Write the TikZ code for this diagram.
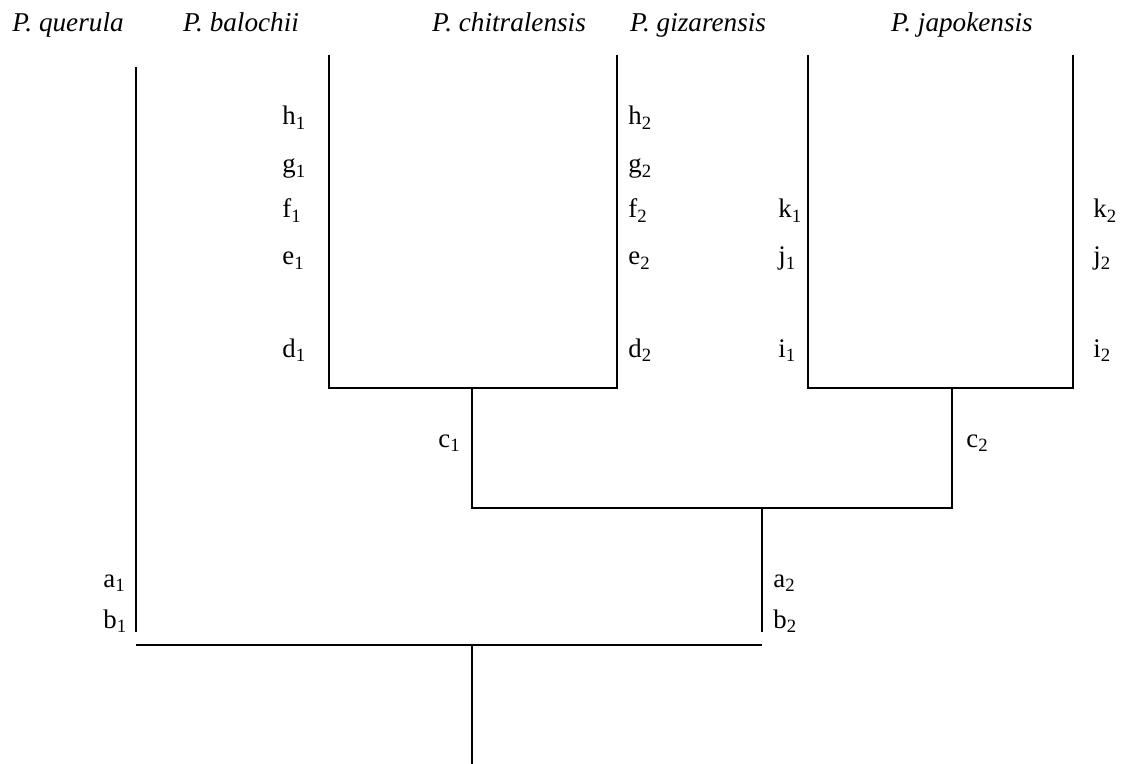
\documentclass[tikz,border=0pt]{standalone}
\usepackage{fontspec}
\setmainfont{Liberation Serif}
\usetikzlibrary{calc,positioning}

\begin{document}
\begin{tikzpicture}[x=0.5pt,y=-0.5pt]

\tikzset{taxon/.style={font=\fontsize{13.6}{16}\selectfont\itshape,inner sep=0pt,anchor=base},
brlabel/.style={font=\fontsize{13.4}{16}\selectfont,inner sep=0pt,anchor=base west},
branch/.style={line width=1pt}}

\useasboundingbox (0,0) rectangle (1122,764);

% Taxon names
\node[taxon] (querula) at (68,32) {P. querula};
\node[taxon] (balochii) at (241,32) {P. balochii};
\node[taxon] (chitral) at (509,32) {P. chitralensis};
\node[taxon] (gizar) at (698,32) {P. gizarensis};
\node[taxon] (japok) at (962,32) {P. japokensis};

% Tips and forks
\coordinate (qTip) at (136,67); \coordinate (qEnd) at (136,632);
\coordinate (bTip) at (329,55); \coordinate (bEnd) at (329,388);
\coordinate (cTip) at (617,55); \coordinate (cEnd) at (617,388);
\coordinate (gTip) at (808,55); \coordinate (gEnd) at (808,388);
\coordinate (jTip) at (1073,55); \coordinate (jEnd) at (1073,388);
\coordinate (bcFork) at (472,388); \coordinate (bcEnd) at (472,508);
\coordinate (gjFork) at (952,388); \coordinate (gjEnd) at (952,508);
\coordinate (innerFork) at (762,508); \coordinate (innerEnd) at (762,632);
\coordinate (rootL) at (136,645); \coordinate (rootR) at (762,645);
\coordinate (root) at (472,645); \coordinate (rootEnd) at (472,764);

% Branches
\draw[branch] (bTip) -- (bEnd) -- (cEnd) -- (cTip); % balochii + chitralensis
\draw[branch] (gTip) -- (gEnd) -- (jEnd) -- (jTip); % gizarensis + japokensis
\draw[branch] (bcFork) -- (bcEnd) -- (gjEnd) -- (gjFork);
\draw[branch] (innerFork) -- (innerEnd);
\draw[branch] (qTip) -- (qEnd);
\draw[branch] (rootL) -- (rootR); \draw[branch] (root) -- (rootEnd);

% Branch labels
\foreach \lab/\y in {h/125,g/173,f/218,e/265,d/357} {
  \node[brlabel] (\lab1) at (282,\y) {\lab\textsubscript{1}};
  \node[brlabel] (\lab2) at (628,\y) {\lab\textsubscript{2}};
}
\foreach \lab/\y in {k/218,j/265,i/357} {
  \node[brlabel] (\lab1) at (778,\y) {\lab\textsubscript{1}};
  \node[brlabel] (\lab2) at (1093,\y) {\lab\textsubscript{2}};
}
\node[brlabel] (c1) at (438,447) {c\textsubscript{1}};
\node[brlabel] (c2) at (966,447) {c\textsubscript{2}};
\node[brlabel] (a1) at (103,587) {a\textsubscript{1}};
\node[brlabel] (b1) at (103,628) {b\textsubscript{1}};
\node[brlabel] (a2) at (773,587) {a\textsubscript{2}};
\node[brlabel] (b2) at (773,628) {b\textsubscript{2}};

\end{tikzpicture}
\end{document}
